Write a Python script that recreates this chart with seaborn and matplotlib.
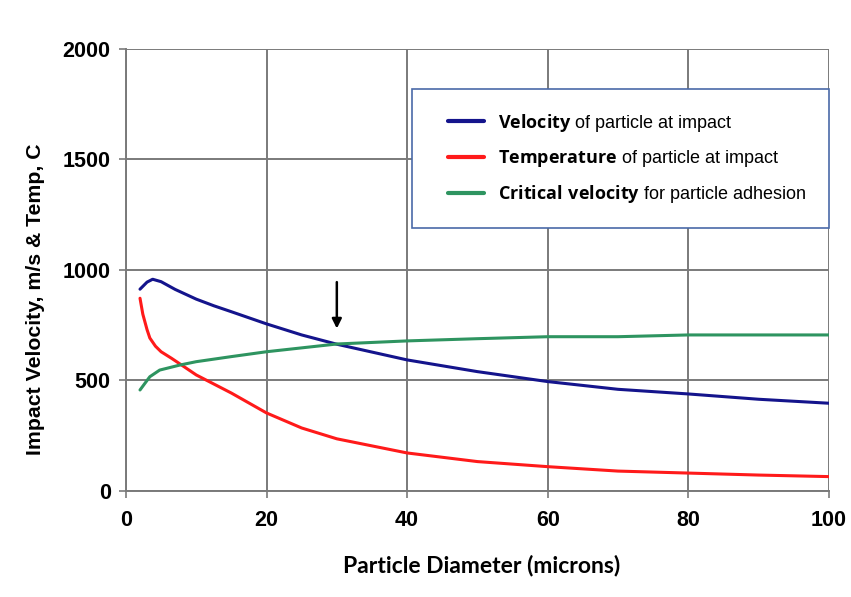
import numpy as np
import pandas as pd
import seaborn as sns
import matplotlib.pyplot as plt
from matplotlib.legend_handler import HandlerLine2D

# Values
vel_x = [2, 3, 3.8, 5, 7, 10, 12.5, 15, 20, 25, 30, 40, 50, 60, 70, 80, 90, 100]
vel_y = [913, 945, 958, 947, 912, 868, 838, 811, 756, 706, 664, 593, 540, 495, 460, 439, 415, 397]

temp_x = [2, 2.4, 3, 3.4, 4.2, 5, 6.5, 8, 10, 15, 20, 25, 30, 40, 50, 60, 70, 80, 90, 100]
temp_y = [872, 800, 730, 692, 655, 630, 600, 568, 525, 443, 353, 285, 236, 172, 133, 110, 90, 81, 72, 65]

crit_x = [2, 3, 3.4, 4.8, 7.7, 10, 15, 20, 30, 40, 50, 60, 70, 80, 90, 100]
crit_y = [457, 500, 517, 547, 570, 585, 608, 630, 665, 679, 689, 698, 698, 706, 706, 706]

labels = [r"$\bf{Velocity}$ of particle at impact",
          r"$\bf{Temperature}$ of particle at impact",
          r"$\bf{Critical\ velocity}$ for particle adhesion"]
colors = ["#14148C", "#FF1A1A", "#2E9460"]

arrow_x = 30
arrow_top, arrow_tip = 945, 735

sns.set_theme(style="white")
plt.rcParams["font.family"] = ["Liberation Sans", "DejaVu Sans"]
plt.rcParams["text.color"] = "black"
plt.rcParams["axes.labelcolor"] = "black"
plt.rcParams["xtick.labelcolor"] = "black"
plt.rcParams["ytick.labelcolor"] = "black"
plt.rcParams["mathtext.fontset"] = "custom"
plt.rcParams["mathtext.rm"] = "Open Sans"
plt.rcParams["mathtext.bf"] = "Open Sans:bold"

fig = plt.figure(figsize=(8.51, 5.97), dpi=100)
ax = fig.add_axes([0.148, 0.1776, 0.826, 0.7404])

series = [(vel_x, vel_y), (temp_x, temp_y), (crit_x, crit_y)]
for (xs, ys), lab, col in zip(series, labels, colors):
    df = pd.DataFrame({"d": xs, "v": ys})
    sns.lineplot(data=df, x="d", y="v", ax=ax, color=col, linewidth=2.2, label=lab)

ax.annotate("", xy=(arrow_x, arrow_tip), xytext=(arrow_x, arrow_top),
            arrowprops=dict(arrowstyle="-|>", color="black", lw=1.8,
                            mutation_scale=14, shrinkA=0, shrinkB=0))

ax.set_xlim(0, 100)
ax.set_ylim(0, 2000)
ax.set_xticks(range(0, 101, 20))
ax.set_yticks(range(0, 2001, 500))
ax.grid(True, color="#7a7a7a", linewidth=1.4)
ax.set_axisbelow(True)
for s in ["top", "right"]:
    ax.spines[s].set_visible(False)
for s in ["left", "bottom"]:
    ax.spines[s].set_color("#7a7a7a")
    ax.spines[s].set_linewidth(1.4)
ax.tick_params(axis="both", which="major", length=5, width=1.2, color="#7a7a7a",
               labelsize=15.5, left=True, bottom=True)
ax.tick_params(axis="y", pad=6)
ax.tick_params(axis="x", pad=9)
for t in ax.get_xticklabels() + ax.get_yticklabels():
    t.set_fontweight("bold")

ax.set_xlabel("Particle Diameter (microns)", fontsize=16.5, fontweight="bold",
              family="Lato")
ax.xaxis.set_label_coords(0.506, -0.143)
ax.set_ylabel("Impact Velocity, m/s & Temp, C", fontsize=15.3, fontweight="bold")
ax.yaxis.set_label_coords(-0.115, 0.435)

leg = ax.legend(loc="upper left", bbox_to_anchor=(0.407, 0.9095), frameon=True,
                fancybox=False, fontsize=13, handlelength=2.75, handletextpad=0.78,
                labelspacing=0.8, borderpad=1.25, borderaxespad=0,
                handler_map={plt.Line2D: HandlerLine2D(xpad=0.75)})
leg.get_frame().set_edgecolor("#4a6aa8")
leg.get_frame().set_linewidth(1.2)
leg.get_frame().set_alpha(1)
for line in leg.get_lines():
    line.set_linewidth(3)

fig.savefig("out.png", dpi=100)
